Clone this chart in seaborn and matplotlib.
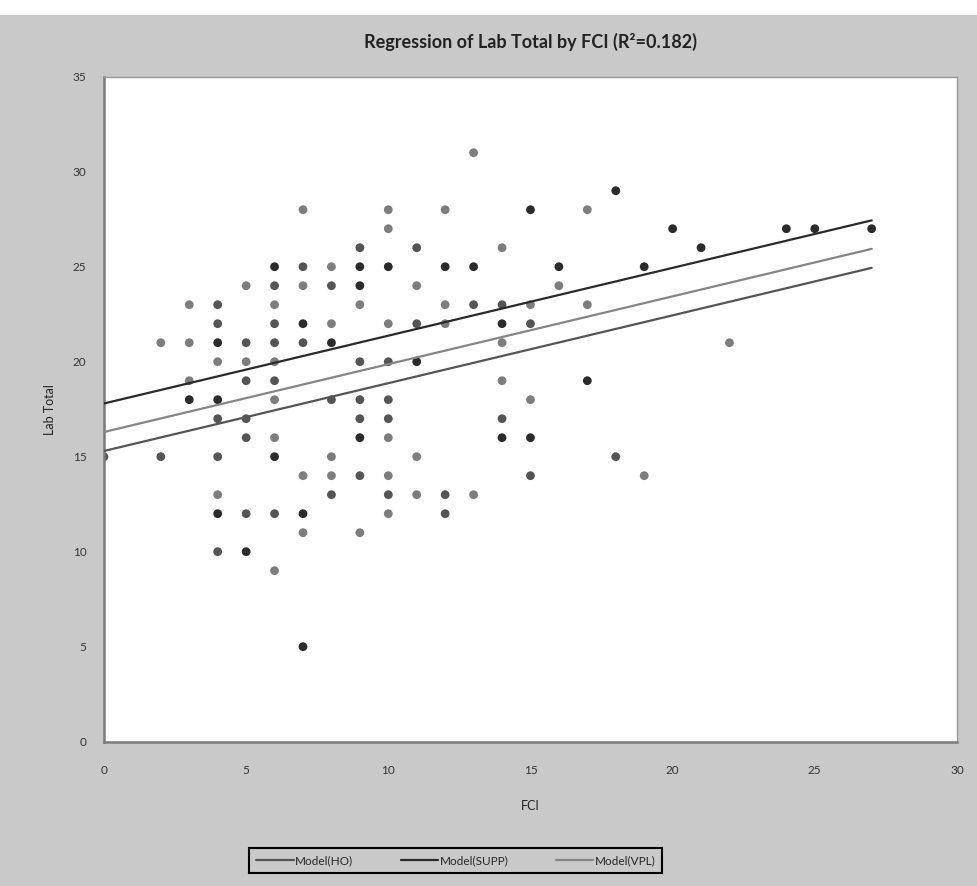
import numpy as np
import pandas as pd
import matplotlib
matplotlib.use('Agg')
import matplotlib.pyplot as plt
import seaborn as sns

# Points (FCI, Lab Total) for each group
ho_fci = [9, 7, 6, 8, 4, 4, 6, 5, 6, 7, 5, 6, 8, 9, 4, 5, 9, 5, 11, 13,
          14, 11, 15, 9, 10, 10, 10, 14, 18, 15, 12, 12, 0, 2, 4, 9, 8, 10, 5, 6, 4]
ho_lab = [26, 25, 24, 24, 23, 22, 22, 21, 21, 21, 19, 19, 18, 18, 17, 17, 17, 16, 26, 23,
          23, 22, 22, 20, 20, 18, 17, 17, 15, 14, 13, 12, 15, 15, 15, 14, 13, 13, 12, 12, 10]

supp_fci = [6, 9, 9, 7, 4, 8, 3, 4, 9, 10, 12, 13, 16, 15, 14, 11, 17, 14, 15, 18,
            20, 21, 19, 24, 25, 27, 6, 4, 7, 5, 7]
supp_lab = [25, 25, 24, 22, 21, 21, 18, 18, 16, 25, 25, 25, 25, 28, 22, 20, 19, 16, 16, 29,
            27, 26, 25, 27, 27, 27, 15, 12, 12, 10, 5]

vpl_fci = [7, 8, 5, 7, 3, 6, 9, 8, 2, 3, 4, 5, 6, 3, 6, 6, 13, 10, 12, 17,
           10, 14, 11, 16, 12, 15, 17, 10, 12, 14, 14, 15, 10, 22, 19, 13, 8, 11, 7, 8,
           10, 4, 11, 10, 7, 9, 6]
vpl_lab = [28, 25, 24, 24, 23, 23, 23, 22, 21, 21, 20, 20, 20, 19, 18, 16, 31, 28, 28, 28,
           27, 26, 24, 24, 23, 23, 23, 22, 22, 21, 19, 18, 16, 21, 14, 13, 15, 15, 14, 14,
           14, 13, 13, 12, 11, 11, 9]

# Fitted model lines (common slope, group intercepts)
models = ['Model(HO)', 'Model(SUPP)', 'Model(VPL)']
intercepts = [15.3, 17.8, 16.3]
slope = 0.357

point_colors = {'HO': '#555555', 'SUPP': '#2b2b2b', 'VPL': '#7d7d7d'}
line_colors = {'Model(HO)': '#555555', 'Model(SUPP)': '#2a2a2a', 'Model(VPL)': '#858585'}

points = pd.concat([
    pd.DataFrame({'FCI': ho_fci, 'Lab Total': ho_lab, 'group': 'HO'}),
    pd.DataFrame({'FCI': supp_fci, 'Lab Total': supp_lab, 'group': 'SUPP'}),
    pd.DataFrame({'FCI': vpl_fci, 'Lab Total': vpl_lab, 'group': 'VPL'}),
])

x_range = [points['FCI'].min(), points['FCI'].max()]
lines = pd.concat([
    pd.DataFrame({'FCI': x_range,
                  'Lab Total': [b + slope * x for x in x_range],
                  'model': m})
    for m, b in zip(models, intercepts)
])

bg = '#c9c9c9'
sns.set_theme(style='white')
plt.rcParams['font.family'] = ['Lato', 'DejaVu Sans']

fig = plt.figure(figsize=(9.78, 8.86), dpi=100, facecolor=bg)
ax = fig.add_axes([0.1063, 0.1629, 0.8722, 0.7505])
ax.set_facecolor('white')

# white strip of the page above the chart
fig.patches.append(plt.Rectangle((0, 0.983), 1, 0.017, transform=fig.transFigure,
                                 facecolor='white', edgecolor='none'))

sns.scatterplot(data=points, x='FCI', y='Lab Total', hue='group', palette=point_colors,
                s=40, linewidth=0, legend=False, ax=ax, zorder=2)
sns.lineplot(data=lines, x='FCI', y='Lab Total', hue='model', palette=line_colors,
             linewidth=1.6, ax=ax, zorder=3, legend=False)

ax.set_xlim(0, 30)
ax.set_ylim(0, 35)
ax.set_xticks(range(0, 31, 5))
ax.set_yticks(range(0, 36, 5))
ax.tick_params(axis='both', direction='inout', length=7, width=1, color='#777777',
               labelsize=8.5, labelcolor='#333333', pad=9)
ax.tick_params(axis='x', pad=13)

for side in ['left', 'bottom']:
    ax.spines[side].set_color('#7a7a7a')
    ax.spines[side].set_linewidth(1.8)
for side in ['top', 'right']:
    ax.spines[side].set_color('#9a9a9a')
    ax.spines[side].set_linewidth(1.0)

ax.set_title('Regression of Lab Total by FCI (R\u00b2=0.182)', fontsize=13,
             fontweight='bold', color='#222222', pad=21)
ax.set_xlabel('FCI', fontsize=9, color='#222222')
ax.set_ylabel('Lab Total', fontsize=9, color='#222222')
ax.xaxis.set_label_coords(0.5, -0.088)
ax.yaxis.set_label_coords(-0.056, 0.5)

handles = [plt.Line2D([], [], color=line_colors[m], linewidth=1.6) for m in models]
leg = fig.legend(handles, models, loc='center', bbox_to_anchor=(0.466, 0.029), ncol=3,
                 frameon=True, fancybox=False, edgecolor='black', facecolor=bg,
                 framealpha=1, fontsize=8.5, handlelength=3.2, handletextpad=0.1,
                 columnspacing=4.0, borderpad=0.6)
leg.get_frame().set_linewidth(1.5)

fig.savefig('out.png', dpi=100, facecolor=bg)
